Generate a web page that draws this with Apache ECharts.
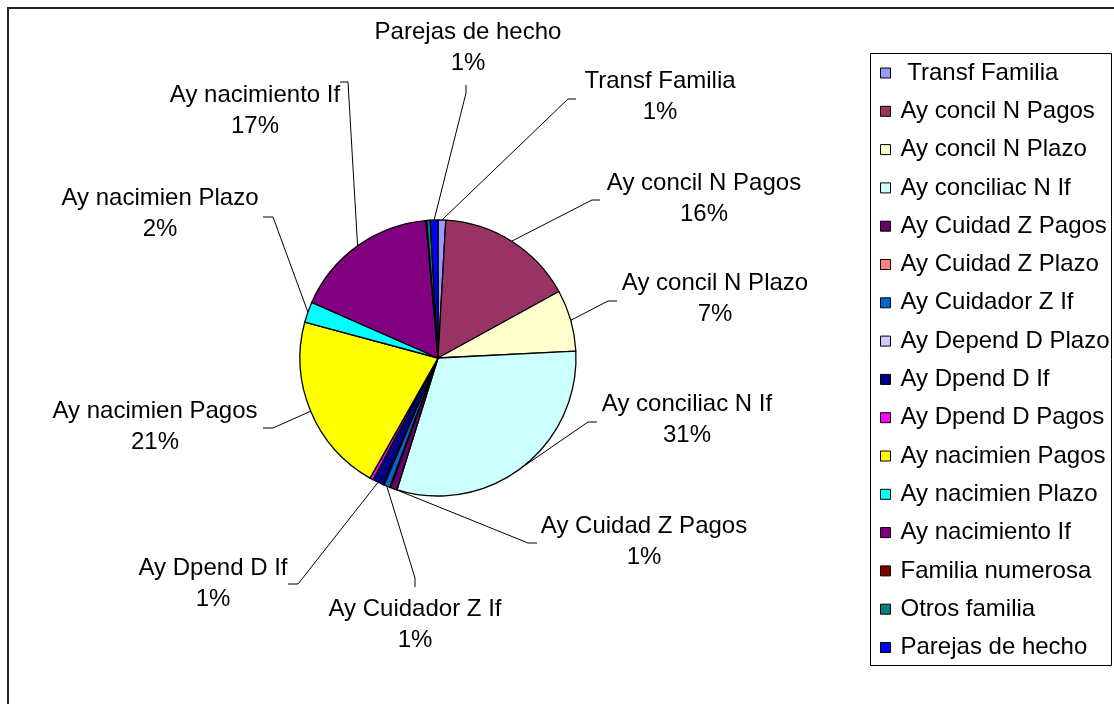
<!DOCTYPE html>
<html>
<head>
<meta charset="utf-8">
<script src="https://cdn.jsdelivr.net/npm/echarts@6/dist/echarts.min.js"></script>
<style>
  html, body { margin: 0; padding: 0; background: #fff; }
  #chart { width: 1114px; height: 704px; }
</style>
</head>
<body>
<div id="chart"></div>
<script>
// categorias (orden del grafico, empezando a las 12 en sentido horario)
const categories = [
  ' Transf Familia', 'Ay concil N Pagos', 'Ay concil N Plazo', 'Ay conciliac N If',
  'Ay Cuidad Z Pagos', 'Ay Cuidad Z Plazo', 'Ay Cuidador Z If', 'Ay Depend D Plazo',
  'Ay Dpend D If', 'Ay Dpend D Pagos', 'Ay nacimien Pagos', 'Ay nacimien Plazo',
  'Ay nacimiento If', 'Familia numerosa', 'Otros familia', 'Parejas de hecho'
]
// porcentaje aproximado de cada partida
const values = [0.9, 16.1, 7.2, 30.6, 0.8, 0.1, 0.7, 0.1, 1.3, 0.4, 21.0, 2.4, 17.0, 0.1, 0.4, 0.9]
const colors = [
  '#9999FF', '#993366', '#FFFFCC', '#CCFFFF', '#660066', '#FF8080', '#0066CC', '#CCCCFF',
  '#000080', '#FF00FF', '#FFFF00', '#00FFFF', '#800080', '#800000', '#008080', '#0000FF'
]

// posicion de etiquetas: [texto x, texto y, codo x, codo y, fin x, fin y]
const labelSpots = {
  ' Transf Familia': [660, 97, 568, 99, 576, 99],
  'Ay concil N Pagos': [704, 199, 592, 200, 600, 200],
  'Ay concil N Plazo': [715, 299, 608, 301, 617, 301],
  'Ay conciliac N If': [687, 420, 588, 422, 597, 422],
  'Ay Cuidad Z Pagos': [644, 542, 528, 543, 537, 543],
  'Ay Cuidador Z If': [415, 625, 415, 578, 415, 587],
  'Ay Dpend D If': [213, 584, 298, 584, 288, 584],
  'Ay nacimien Pagos': [155, 427, 273, 428, 263, 428],
  'Ay nacimien Plazo': [160, 214, 273, 217, 263, 217],
  'Ay nacimiento If': [255, 111, 348, 82, 340, 82],
  'Parejas de hecho': [468, 48, 466, 93, 466, 85]
}

const total = values.reduce((a, b) => a + b, 0)
const FONT = '"Liberation Sans", Arial, sans-serif'

const pieData = categories.map((name, i) => {
  const pct = Math.round(values[i] / total * 100)
  return {
    name,
    value: values[i],
    itemStyle: { color: colors[i] },
    label: { show: pct >= 1 },
    labelLine: { show: pct >= 1 }
  }
})

const chart = echarts.init(document.getElementById('chart'), null, { renderer: 'canvas' })

chart.setOption({
  animation: false,
  backgroundColor: '#fff',
  graphic: [
    {
      type: 'rect',
      shape: { x: 8, y: 8, width: 1130, height: 720 },
      style: { fill: 'none', stroke: '#222', lineWidth: 2 },
      silent: true
    },
    {
      type: 'rect',
      shape: { x: 870.5, y: 53.5, width: 241, height: 612 },
      style: { fill: 'none', stroke: '#000', lineWidth: 1 },
      silent: true
    }
  ],
  legend: {
    orient: 'vertical',
    left: 880,
    top: 61,
    padding: 0,
    itemWidth: 10,
    itemHeight: 10,
    itemGap: 14.3,
    icon: 'rect',
    itemStyle: { borderColor: '#000', borderWidth: 1 },
    textStyle: {
      fontFamily: FONT,
      fontSize: 24,
      lineHeight: 24,
      color: '#000',
      padding: [0, 0, 0, 5]
    },
    data: categories
  },
  series: [
    {
      type: 'pie',
      center: [438, 358],
      radius: 138,
      startAngle: 90,
      clockwise: true,
      avoidLabelOverlap: false,
      itemStyle: { borderColor: '#000', borderWidth: 1.3 },
      emphasis: { disabled: true },
      label: {
        show: true,
        position: 'outside',
        fontFamily: FONT,
        fontSize: 24,
        lineHeight: 31,
        color: '#000',
        align: 'center',
        formatter: (p) => p.name.trim() + '\n' + Math.round(p.percent) + '%'
      },
      labelLine: {
        show: true,
        lineStyle: { color: '#000', width: 1 }
      },
      labelLayout: (params) => {
        const name = categories[params.dataIndex]
        const s = labelSpots[name]
        if (!s || !params.labelLinePoints) return {}
        return {
          x: s[0],
          y: s[1],
          align: 'center',
          verticalAlign: 'middle',
          labelLinePoints: [params.labelLinePoints[0], [s[2], s[3]], [s[4], s[5]]]
        }
      },
      data: pieData
    }
  ]
})
</script>
</body>
</html>
